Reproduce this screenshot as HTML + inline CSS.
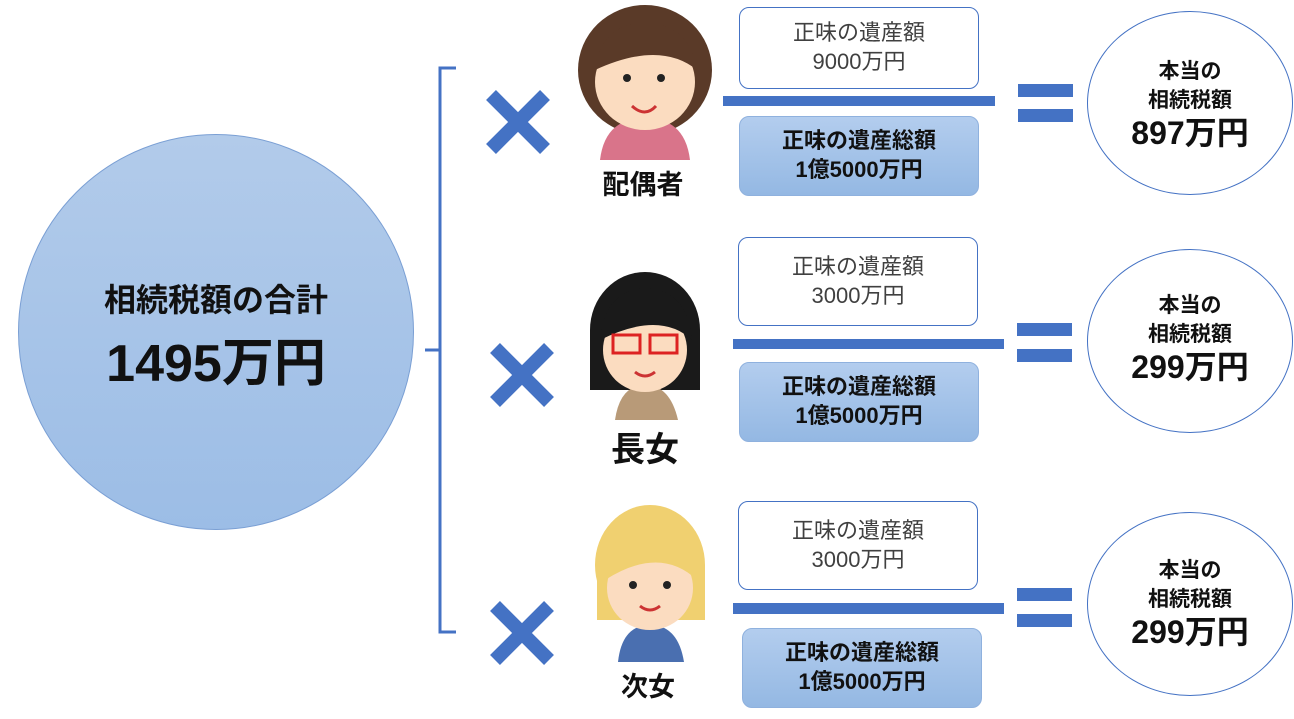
<!DOCTYPE html>
<html><head><meta charset="utf-8"><style>
body{margin:0;width:1294px;height:719px;background:#fff;position:relative;overflow:hidden;font-family:"Liberation Sans","Noto Sans CJK JP",sans-serif}
.a{position:absolute}
.tb{position:absolute;width:240px;height:82px;border:1.5px solid #4472c4;border-radius:10px;background:#fff;box-sizing:border-box;text-align:center;color:#404040;font-size:22px;line-height:29px;padding-top:10px}
.bb{position:absolute;width:240px;height:80px;border:1px solid #8fb1de;border-radius:10px;background:linear-gradient(#b3cdee,#94b8e3);box-sizing:border-box;text-align:center;color:#111;font-size:22px;font-weight:bold;line-height:29px;padding-top:9px}
.bar{position:absolute;height:10px;background:#4472c4}
.eq{position:absolute;width:55px;height:13px;background:#4472c4}
.el{position:absolute;width:206px;height:184px;border:1.5px solid #4472c4;border-radius:50%;box-sizing:border-box;text-align:center;font-weight:bold;color:#111}
.lbl{position:absolute;font-weight:bold;color:#111;text-align:center}
</style></head><body>
<div class="a" style="left:18px;top:134px;width:396px;height:396px;border-radius:50%;background:linear-gradient(#b2cbea,#9cbde6);border:1.5px solid #7a9fd4;box-sizing:border-box;text-align:center;font-weight:bold;color:#111">
<div style="margin-top:140px;font-size:32px">相続税額の合計</div>
<div style="font-size:52px;margin-top:0px">1495万円</div></div>
<svg class="a" style="left:0;top:0" width="1294" height="719">
<path d="M456 68 H440 V632 H456 M440 350 H425" fill="none" stroke="#4472c4" stroke-width="3"/>
<g stroke="#4472c4" stroke-width="14">
<path d="M491 95 L545 149 M545 95 L491 149"/>
<path d="M495 348 L549 402 M549 348 L495 402"/>
<path d="M495 606 L549 660 M549 606 L495 660"/>
</g>
<ellipse cx="645" cy="70" rx="67" ry="65" fill="#5a3a28"/>
<path d="M600 160 Q605 118 645 118 Q685 118 690 160Z" fill="#d9748a"/>
<ellipse cx="645" cy="82" rx="50" ry="48" fill="#fbdcc0"/>
<path d="M595 70 Q600 25 645 22 Q690 25 697 70 Q660 40 595 70Z" fill="#5a3a28"/>
<circle cx="627" cy="78" r="4" fill="#222"/><circle cx="661" cy="78" r="4" fill="#222"/>
<path d="M632 106 Q645 118 656 106" stroke="#c33" stroke-width="3" fill="none"/>
<ellipse cx="645" cy="330" rx="55" ry="58" fill="#1a1a1a"/>
<rect x="590" y="330" width="110" height="60" fill="#1a1a1a"/>
<path d="M615 420 Q620 385 645 385 Q670 385 678 420Z" fill="#b89a78"/>
<ellipse cx="645" cy="350" rx="42" ry="42" fill="#fbdcc0"/>
<path d="M600 340 Q605 290 645 288 Q688 290 692 340 Q660 310 600 340Z" fill="#1a1a1a"/>
<rect x="613" y="335" width="27" height="18" fill="none" stroke="#d22" stroke-width="3"/><rect x="650" y="335" width="27" height="18" fill="none" stroke="#d22" stroke-width="3"/>
<path d="M635 372 Q645 380 655 372" stroke="#c33" stroke-width="3" fill="none"/>
<ellipse cx="650" cy="565" rx="55" ry="60" fill="#f0d070"/>
<rect x="597" y="565" width="108" height="55" fill="#f0d070"/>
<path d="M618 662 Q622 625 650 625 Q678 625 684 662Z" fill="#4a6fb0"/>
<ellipse cx="650" cy="588" rx="43" ry="42" fill="#fbdcc0"/>
<path d="M605 580 Q610 525 650 522 Q692 525 697 580 Q660 545 605 580Z" fill="#f0d070"/>
<circle cx="633" cy="585" r="4" fill="#222"/><circle cx="667" cy="585" r="4" fill="#222"/>
<path d="M640 606 Q650 614 660 606" stroke="#c33" stroke-width="3" fill="none"/>
</svg>
<div class="lbl" style="left:588px;top:163px;width:110px;font-size:27px">配偶者</div>
<div class="lbl" style="left:590px;top:422px;width:110px;font-size:34px">長女</div>
<div class="lbl" style="left:593px;top:665px;width:110px;font-size:27px">次女</div>

<div class="tb" style="left:739px;top:7px">正味の遺産額<br>9000万円</div>
<div class="bar" style="left:723px;top:96px;width:272px"></div>
<div class="bb" style="left:739px;top:116px">正味の遺産総額<br>1億5000万円</div>

<div class="tb" style="left:738px;top:237px;height:89px;padding-top:14px">正味の遺産額<br>3000万円</div>
<div class="bar" style="left:733px;top:339px;width:271px"></div>
<div class="bb" style="left:739px;top:362px">正味の遺産総額<br>1億5000万円</div>

<div class="tb" style="left:738px;top:501px;height:89px;padding-top:14px">正味の遺産額<br>3000万円</div>
<div class="bar" style="left:733px;top:603px;width:271px;height:11px"></div>
<div class="bb" style="left:742px;top:628px">正味の遺産総額<br>1億5000万円</div>

<div class="eq" style="left:1018px;top:84px"></div><div class="eq" style="left:1018px;top:109px"></div>
<div class="eq" style="left:1017px;top:323px"></div><div class="eq" style="left:1017px;top:349px"></div>
<div class="eq" style="left:1017px;top:588px"></div><div class="eq" style="left:1017px;top:614px"></div>

<div class="el" style="left:1087px;top:11px"><div style="margin-top:45px;font-size:21px;line-height:29px">本当の<br>相続税額</div><div style="font-size:32px;line-height:36px">897万円</div></div>
<div class="el" style="left:1087px;top:249px"><div style="margin-top:41px;font-size:21px;line-height:29px">本当の<br>相続税額</div><div style="font-size:32px;line-height:36px">299万円</div></div>
<div class="el" style="left:1087px;top:512px"><div style="margin-top:43px;font-size:21px;line-height:29px">本当の<br>相続税額</div><div style="font-size:32px;line-height:36px">299万円</div></div>
</body></html>
